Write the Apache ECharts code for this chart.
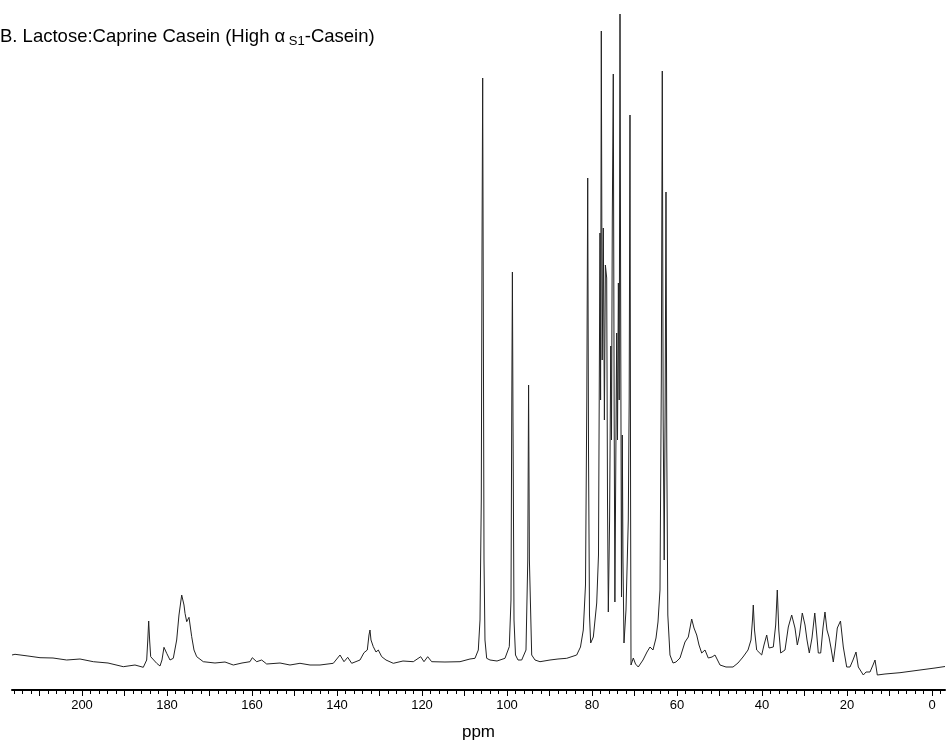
<!DOCTYPE html>
<html>
<head>
<meta charset="utf-8">
<script src="https://cdn.jsdelivr.net/npm/echarts@6/dist/echarts.min.js"></script>
<style>html,body{margin:0;padding:0;background:#fff;}#c{width:949px;height:743px;}</style>
</head>
<body>
<div id="c"></div>
<script>
// Chemical shift (ppm)
const ppm = [216.47,215.76,212.71,209.88,206.82,203.60,200.47,197.34,193.88,190.28,187.53,185.58,184.78,184.52,184.31,184.09,183.84,182.42,181.65,181.18,180.71,180.07,179.29,178.52,177.72,177.18,176.54,176.00,175.76,175.36,174.82,174.19,173.65,173.01,171.46,168.71,166.35,164.40,162.35,160.47,159.93,158.89,157.72,156.54,153.41,151.06,148.71,146.35,144.00,140.87,139.29,138.35,137.48,136.54,134.59,133.65,132.87,132.47,132.24,132.00,131.46,130.82,130.28,129.48,128.47,126.75,124.47,122.05,120.31,119.53,118.66,117.72,114.59,111.06,108.71,107.53,106.75,106.35,106.05,105.88,105.72,105.58,105.41,105.18,104.78,104.00,102.35,100.47,99.46,99.06,98.87,98.73,98.59,98.35,98.00,97.41,96.54,95.53,95.11,94.92,94.73,94.19,93.41,92.24,89.88,88.00,85.95,83.60,82.71,82.05,81.53,81.22,81.01,80.82,80.59,80.31,79.69,78.89,78.47,78.12,77.98,77.81,77.60,77.34,77.08,76.85,76.54,76.35,76.16,75.86,75.58,75.41,75.22,74.99,74.78,74.61,74.38,74.19,74.00,73.79,73.60,73.41,73.22,73.06,72.87,72.71,72.47,72.00,71.46,71.25,71.06,70.92,70.82,70.28,69.76,69.11,68.00,67.06,66.35,65.65,64.94,64.47,64.00,63.69,63.46,63.25,63.01,62.78,62.59,62.40,62.16,61.65,60.94,60.24,59.29,58.12,57.34,56.54,56.00,55.36,54.82,54.19,53.41,52.64,51.76,51.06,49.88,48.47,46.82,45.65,44.47,43.29,42.59,42.24,42.05,41.76,41.25,40.07,39.53,38.89,38.35,37.34,36.78,36.40,36.05,35.60,34.59,33.81,33.01,32.24,31.69,31.18,30.52,29.88,29.41,28.87,28.24,27.58,27.11,26.75,26.19,25.65,25.18,24.71,24.24,23.76,23.22,22.71,22.28,21.53,20.87,20.07,19.29,18.59,17.88,17.34,16.16,15.53,14.59,13.88,13.41,13.11,12.87,11.06,7.53,2.82,-0.71,-3.06];
// Signal intensity (arbitrary units)
const intensity = [35,35.7,34,32.3,32,30,31,28.3,27,23.3,25,22.7,30,50,69,50,33.3,26.7,24,30,42.7,36.7,30,31.7,50,75,95,85,76.7,68.3,72.7,53.3,40,33.3,28.3,27,28,25,27,28.3,32.3,28.3,30,26,27,25,26.7,25,25,26.7,35,28.3,32.7,26.7,30,37.3,40,55,60,50,43.3,38,40,33.3,30,26.7,29,28.3,33.3,28.3,33.3,28.3,28,28.3,31,31.7,40,70,190,440,612,390,130,50,31.7,30,29,31.7,43.3,90,290,418,270,70,35,30,30,40,130,305,130,35,30,28.3,30,31,31.7,35,43,60,105,290,512,240,75,47,53,87,135,457,290,659,330,462,270,425,412,190,78,170,344,250,473,616,270,88,240,357,250,407,290,676,330,93,255,130,47,80,170,290,575,190,25,32,26,23,30,38,43,40,52,68,100,310,619,270,130,290,498,240,75,35,27,28,32,48,53,71,62,55,45,37,40,32,33,35,25,23,23,27,33,40,50,70,85,60,40,35,45,55,42,43,65,100,60,37,40,63,75,62,45,55,77,65,50,37,52,77,55,37,37,62,78,60,53,42,28,45,62,69,43,23,23,30,38,23,15,18,18,25,30,22,15,16,17.3,20,22,23.5];
// Axis tick labels
const tickLabels = [200,180,160,140,120,100,80,60,40,20,0];

const minorTicks = [];
for (let v = -2; v <= 216; v += 2) minorTicks.push(v);
const majorTicks = [];
for (let v = 0; v <= 210; v += 10) majorTicks.push(v);

const data = ppm.map((p, i) => [p, intensity[i]]);
const chart = echarts.init(document.getElementById('c'), null, {renderer: 'canvas'});
const FONT = 'Liberation Sans, Arial, Helvetica, sans-serif';
chart.setOption({
  animation: false,
  backgroundColor: '#fff',
  title: {
    text: '{a|B. Lactose:Caprine Casein (High α}{sub| S1}{a|-Casein)}',
    left: 0,
    top: 26,
    padding: 0,
    textStyle: {
      fontWeight: 'normal',
      rich: {
        a: {fontSize: 18.5, fontFamily: FONT, fontWeight: 'normal', color: '#000', lineHeight: 22},
        sub: {fontSize: 13, fontFamily: FONT, fontWeight: 'normal', color: '#000', lineHeight: 22, padding: [9, 0, 0, 0]}
      }
    }
  },
  grid: {left: 12, right: 4, top: 10, bottom: 53, containLabel: false, outerBoundsMode: 'none'},
  xAxis: [{
    type: 'value', inverse: true, min: -3.06, max: 216.47,
    axisLine: {show: true, onZero: false, lineStyle: {color: '#000', width: 2}},
    axisTick: {show: true, customValues: minorTicks, length: 4, lineStyle: {color: '#000', width: 1}},
    axisLabel: {show: false},
    splitLine: {show: false}
  }, {
    type: 'value', inverse: true, min: -3.06, max: 216.47, position: 'bottom',
    axisLine: {show: false, onZero: false},
    axisTick: {show: true, customValues: majorTicks, length: 6, lineStyle: {color: '#000', width: 1}},
    axisLabel: {show: true, customValues: tickLabels, margin: 9, fontSize: 13, color: '#000', fontFamily: FONT},
    splitLine: {show: false},
    name: 'ppm', nameLocation: 'middle', nameGap: 34,
    nameTextStyle: {fontSize: 17, color: '#000', fontFamily: FONT}
  }],
  yAxis: {type: 'value', min: 0, max: 680, show: false},
  series: [{
    type: 'line', xAxisIndex: 0, data: data, showSymbol: false, smooth: false,
    lineStyle: {color: '#222', width: 1}
  }]
});
</script>
</body>
</html>
